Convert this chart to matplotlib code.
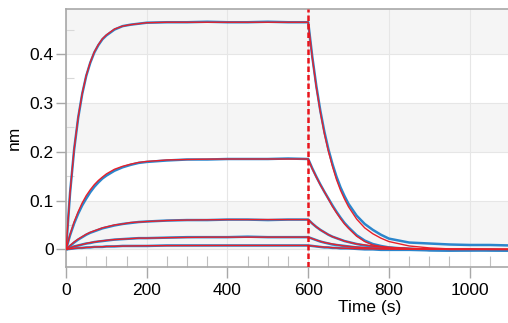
import numpy as np
import matplotlib
matplotlib.use('Agg')
import matplotlib.pyplot as plt
from matplotlib.ticker import MultipleLocator

plt.rcParams['font.family'] = ['Liberation Sans', 'DejaVu Sans']

# time axis of the sensorgram (s)
time = [0, 10, 20, 30, 40, 50, 60, 70, 80, 90, 100, 120, 140, 160, 180, 200,
        250, 300, 350, 400, 450, 500, 550, 600,
        610, 620, 630, 640, 650, 660, 670, 680, 690, 700, 720, 740, 760, 780,
        800, 850, 900, 950, 1000, 1050, 1100]

# measured traces (blue)
data1 = [0, 0.116, 0.204, 0.269, 0.318, 0.355, 0.382, 0.403, 0.418, 0.430,
         0.438, 0.450, 0.457, 0.460, 0.462, 0.464, 0.465, 0.465, 0.466, 0.465,
         0.465, 0.466, 0.465, 0.465,
         0.395, 0.335, 0.284, 0.241, 0.205, 0.175, 0.149, 0.127, 0.109, 0.093,
         0.069, 0.052, 0.040, 0.030, 0.022, 0.014, 0.012, 0.010, 0.009, 0.009,
         0.008]
data2 = [0, 0.029, 0.053, 0.073, 0.090, 0.104, 0.117, 0.128, 0.137, 0.145,
         0.151, 0.161, 0.168, 0.173, 0.177, 0.179, 0.182, 0.184, 0.184, 0.185,
         0.185, 0.185, 0.186, 0.185,
         0.166, 0.149, 0.133, 0.118, 0.104, 0.090, 0.077, 0.065, 0.054, 0.045,
         0.029, 0.018, 0.011, 0.007, 0.004, 0.001, -0.001, -0.001, -0.002,
         -0.001, -0.002]
data3 = [0, 0.007, 0.014, 0.020, 0.025, 0.030, 0.034, 0.037, 0.040, 0.043,
         0.045, 0.049, 0.052, 0.054, 0.056, 0.057, 0.059, 0.060, 0.060, 0.061,
         0.061, 0.060, 0.061, 0.061,
         0.053, 0.046, 0.040, 0.035, 0.030, 0.026, 0.023, 0.020, 0.017, 0.015,
         0.011, 0.008, 0.006, 0.004, 0.003, 0.001, -0.001, -0.002, -0.001,
         -0.002, -0.002]
data4 = [0, 0.003, 0.006, 0.008, 0.010, 0.012, 0.013, 0.015, 0.016, 0.017,
         0.018, 0.020, 0.021, 0.022, 0.023, 0.023, 0.024, 0.025, 0.025, 0.025,
         0.026, 0.025, 0.025, 0.025,
         0.022, 0.019, 0.016, 0.014, 0.012, 0.010, 0.009, 0.008, 0.007, 0.006,
         0.004, 0.003, 0.002, 0.001, 0.001, 0.0, -0.001, -0.002, -0.002,
         -0.001, -0.002]
data5 = [0, 0.001, 0.002, 0.003, 0.003, 0.004, 0.004, 0.005, 0.005, 0.005,
         0.006, 0.006, 0.007, 0.007, 0.007, 0.007, 0.008, 0.008, 0.008, 0.008,
         0.008, 0.008, 0.008, 0.008,
         0.007, 0.006, 0.005, 0.004, 0.004, 0.003, 0.003, 0.002, 0.002, 0.002,
         0.001, 0.0, 0.0, -0.001, -0.001, -0.001, -0.002, -0.002, -0.001,
         -0.002, -0.002]

# global fit (red)
fit1 = [0, 0.117, 0.205, 0.270, 0.319, 0.356, 0.383, 0.404, 0.419, 0.431,
        0.439, 0.451, 0.457, 0.460, 0.462, 0.464, 0.465, 0.465, 0.465, 0.465,
        0.465, 0.465, 0.465, 0.465,
        0.393, 0.332, 0.281, 0.237, 0.201, 0.170, 0.143, 0.121, 0.103, 0.087,
        0.062, 0.044, 0.032, 0.023, 0.016, 0.007, 0.003, 0.001, 0.001, 0.0,
        0.0]
fit2 = [0, 0.0305, 0.056, 0.077, 0.095, 0.110, 0.122, 0.1325, 0.141, 0.148,
        0.1545, 0.164, 0.170, 0.1745, 0.178, 0.180, 0.183, 0.184, 0.1847,
        0.185, 0.185, 0.185, 0.185, 0.185,
        0.165, 0.148, 0.132, 0.118, 0.103, 0.088, 0.075, 0.063, 0.052, 0.043,
        0.027, 0.016, 0.009, 0.006, 0.004, 0.0015, 0.0005, 0.0, 0.0, 0.0, 0.0]
fit3 = [0, 0.008, 0.015, 0.021, 0.026, 0.031, 0.035, 0.038, 0.041, 0.044,
        0.046, 0.050, 0.052, 0.055, 0.056, 0.057, 0.059, 0.060, 0.0605, 0.061,
        0.061, 0.061, 0.061, 0.061,
        0.053, 0.046, 0.040, 0.035, 0.030, 0.026, 0.023, 0.020, 0.017, 0.015,
        0.011, 0.009, 0.0065, 0.005, 0.004, 0.002, 0.001, 0.0, 0.0, 0.0, 0.0]
fit4 = [0, 0.003, 0.006, 0.008, 0.010, 0.012, 0.014, 0.015, 0.0165, 0.0175,
        0.0185, 0.020, 0.021, 0.022, 0.023, 0.023, 0.024, 0.0245, 0.025, 0.025,
        0.025, 0.025, 0.025, 0.025,
        0.022, 0.019, 0.0165, 0.014, 0.0125, 0.011, 0.0095, 0.008, 0.007,
        0.006, 0.0047, 0.0035, 0.0027, 0.002, 0.0015, 0.0007, 0.0004, 0.0,
        0.0, 0.0, 0.0]
fit5 = [0, 0.001, 0.002, 0.0026, 0.0032, 0.0038, 0.0043, 0.0048, 0.0052,
        0.0055, 0.0058, 0.0063, 0.0067, 0.007, 0.0072, 0.0074, 0.0077, 0.0078,
        0.0079, 0.008, 0.008, 0.008, 0.008, 0.008,
        0.007, 0.006, 0.0053, 0.0046, 0.004, 0.0035, 0.003, 0.0026, 0.0023,
        0.002, 0.0015, 0.0011, 0.0009, 0.0006, 0.0005, 0.0002, 0.0, 0.0, 0.0,
        0.0, 0.0]

switch_time = 600
y_ticks = [0, 0.1, 0.2, 0.3, 0.4]

fig = plt.figure(figsize=(5.08, 3.23), dpi=100)
ax = fig.add_axes([0.130, 0.172, 0.870, 0.800])
ax.set_xlim(0, 1095)
ax.set_ylim(-0.037, 0.492)

# alternating background bands
for lo in [0.0, 0.2, 0.4]:
    ax.axhspan(lo, lo + 0.1, color='#f5f5f5', zorder=0, lw=0)

ax.grid(True, which='major', color='#e6e6e6', lw=0.8, zorder=0.5)

for d in [data1, data2, data3, data4, data5]:
    ax.plot(time, d, color='#2b86cc', lw=1.8, zorder=2)
for f in [fit1, fit2, fit3, fit4, fit5]:
    ax.plot(time, f, color='#e8202a', lw=1.0, zorder=3)

ax.axvline(switch_time, color='#e8141c', lw=1.8, ls=(0, (2.2, 1.2)), zorder=4)

ax.set_yticks(y_ticks)
ax.set_yticklabels(['0', '0.1', '0.2', '0.3', '0.4'])
ax.xaxis.set_major_locator(MultipleLocator(200))
ax.xaxis.set_minor_locator(MultipleLocator(50))
ax.yaxis.set_minor_locator(MultipleLocator(0.05))

for s in ['left', 'bottom', 'top']:
    ax.spines[s].set_color('#a8a8a8')
    ax.spines[s].set_linewidth(1.2)
ax.spines['right'].set_visible(False)

ax.tick_params(axis='x', which='major', direction='out', length=8,
               color='#a8a8a8', width=1.0, pad=3, labelsize=12.5)
ax.tick_params(axis='x', which='minor', direction='in', length=8,
               color='#c0c0c0', width=0.8)
ax.tick_params(axis='y', which='major', direction='out', length=7,
               color='#a8a8a8', width=1.0, pad=2, labelsize=12.5)
ax.tick_params(axis='y', which='minor', direction='in', length=6,
               color='#d8d8d8', width=0.8)

ax.set_xlabel('Time (s)', fontsize=12.5)
ax.xaxis.set_label_coords(0.686, -0.125)
ax.set_ylabel('nm', fontsize=12.5)
ax.yaxis.set_label_coords(-0.10, 0.5)

fig.savefig('out.png', dpi=100)
